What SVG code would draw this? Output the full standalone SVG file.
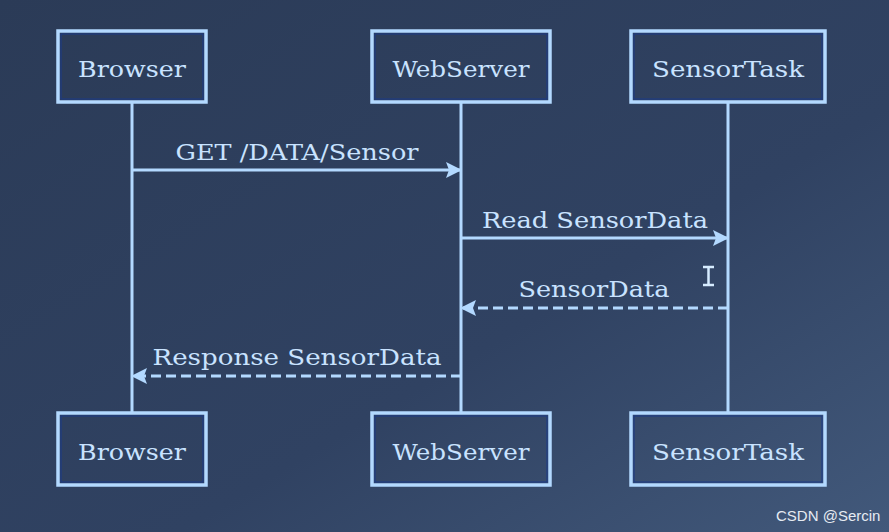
<svg xmlns="http://www.w3.org/2000/svg" width="889" height="532" viewBox="0 0 889 532">
  <defs>
    <linearGradient id="bg" x1="0" y1="0" x2="1" y2="1">
      <stop offset="0" stop-color="#2b3b57"/>
      <stop offset="0.6" stop-color="#304262"/>
      <stop offset="1" stop-color="#42597b"/>
    </linearGradient>
    <marker id="head" viewBox="0 0 16 16" refX="15" refY="8" markerWidth="16" markerHeight="16" markerUnits="userSpaceOnUse" orient="auto">
      <path d="M0,0 L16,8 L0,16 L3,8 Z" fill="#b3d9ff"/>
    </marker>
    <style>
      .box { fill: none; stroke: #b3d9ff; stroke-width: 3.5; }
      .inner { fill: none; stroke: #1a3a8a; stroke-width: 1; }
      .life { stroke: #b3d9ff; stroke-width: 3; }
      .msg { stroke: #b3d9ff; stroke-width: 3; fill: none; marker-end: url(#head); }
      .dash { stroke-dasharray: 10 5; }
      .t { font-family: "DejaVu Serif", "Liberation Serif", serif; font-size: 23px; fill: #c9e3ff; text-anchor: middle; }
      .wm { font-family: "Liberation Sans", Arial, sans-serif; font-size: 15px; fill: #e6ebf2; }
    </style>
  </defs>

  <rect x="0" y="0" width="889" height="532" fill="url(#bg)"/>

  <!-- lifelines -->
  <g id="lifelines">
    <line class="life" x1="132" y1="102" x2="132" y2="413"/>
    <line class="life" x1="461" y1="102" x2="461" y2="413"/>
    <line class="life" x1="728" y1="102" x2="728" y2="413"/>
  </g>

  <!-- participants, top -->
  <g id="browser-top">
    <rect class="box" x="58" y="31" width="148" height="71"/>
    <rect class="inner" x="61" y="34" width="142" height="65"/>
    <text class="t" x="132" y="77" textLength="108" lengthAdjust="spacingAndGlyphs">Browser</text>
  </g>
  <g id="webserver-top">
    <rect class="box" x="372" y="31" width="178" height="71"/>
    <rect class="inner" x="375" y="34" width="172" height="65"/>
    <text class="t" x="461" y="77" textLength="137" lengthAdjust="spacingAndGlyphs">WebServer</text>
  </g>
  <g id="sensortask-top">
    <rect class="box" x="631" y="31" width="194" height="71"/>
    <rect class="inner" x="634" y="34" width="188" height="65"/>
    <text class="t" x="728" y="77" textLength="152" lengthAdjust="spacingAndGlyphs">SensorTask</text>
  </g>

  <!-- participants, bottom -->
  <g id="browser-bottom">
    <rect class="box" x="58" y="413" width="148" height="72"/>
    <rect class="inner" x="61" y="416" width="142" height="66"/>
    <text class="t" x="132" y="460" textLength="108" lengthAdjust="spacingAndGlyphs">Browser</text>
  </g>
  <g id="webserver-bottom">
    <rect class="box" x="372" y="413" width="178" height="72"/>
    <rect class="inner" x="375" y="416" width="172" height="66"/>
    <text class="t" x="461" y="460" textLength="137" lengthAdjust="spacingAndGlyphs">WebServer</text>
  </g>
  <g id="sensortask-bottom">
    <rect class="box" x="631" y="413" width="194" height="72"/>
    <rect class="inner" x="634" y="416" width="188" height="66"/>
    <text class="t" x="728" y="460" textLength="152" lengthAdjust="spacingAndGlyphs">SensorTask</text>
  </g>

  <!-- messages -->
  <g id="messages">
    <line class="msg" x1="132" y1="170" x2="461" y2="170"/>
    <text class="t" x="297" y="160" textLength="243" lengthAdjust="spacingAndGlyphs">GET /DATA/Sensor</text>

    <line class="msg" x1="461" y1="238" x2="728" y2="238"/>
    <text class="t" x="595" y="228" textLength="226" lengthAdjust="spacingAndGlyphs">Read SensorData</text>

    <line class="msg dash" x1="728" y1="308" x2="461" y2="308"/>
    <text class="t" x="594" y="297" textLength="151" lengthAdjust="spacingAndGlyphs">SensorData</text>

    <line class="msg dash" x1="461" y1="376" x2="132" y2="376"/>
    <text class="t" x="297" y="365" textLength="289" lengthAdjust="spacingAndGlyphs">Response SensorData</text>
  </g>

  <!-- text cursor -->
  <path d="M703,267 H714 M708.5,267 V285 M703,285 H714" stroke="#d6ecff" stroke-width="2.5" fill="none"/>

  <text class="wm" x="776" y="521">CSDN @Sercin</text>
</svg>
